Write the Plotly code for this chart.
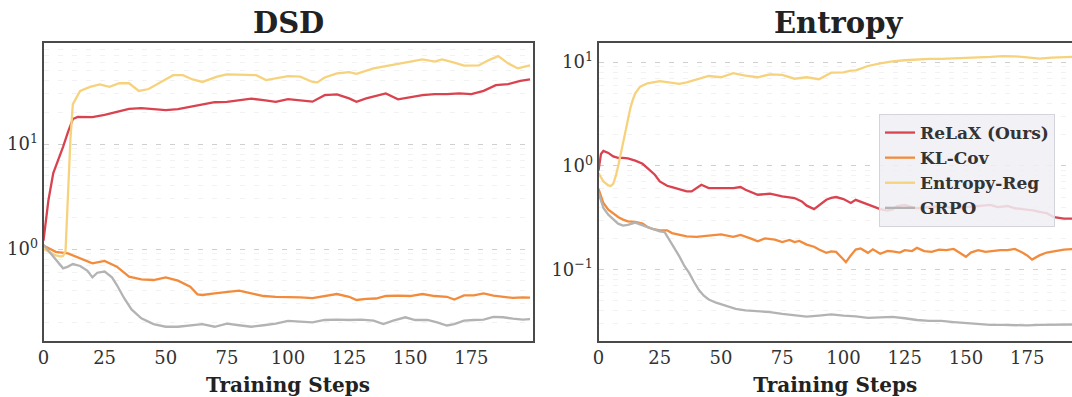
import plotly.graph_objects as go

# ---------------- data: DSD panel ----------------
dsd_relax_steps = [0, 2, 4, 6, 8, 10, 12, 14, 20, 25, 30, 35, 40, 45, 50, 55, 60, 65, 70, 75, 80, 85, 90, 95,
                   100, 105, 110, 115, 120, 125, 128, 132, 136, 140, 145, 150, 155, 160, 165, 170, 175, 180,
                   185, 190, 195, 199]
dsd_relax = [1.2, 2.9, 5.3, 7.0, 9.4, 13.0, 17.3, 18.1, 18.0, 18.9, 20.3, 21.6, 22.0, 21.6, 21.0, 21.5, 22.6,
             23.5, 25.0, 25.2, 26.2, 27.0, 26.2, 25.2, 26.8, 26.2, 25.3, 29.2, 29.7, 27.2, 25.2, 27.2, 28.7,
             30.3, 26.6, 27.8, 29.2, 29.9, 29.9, 30.4, 29.9, 32.1, 36.3, 37.2, 40.0, 41.2]

dsd_entreg_steps = [0, 3, 5, 7, 8, 9, 10, 11, 12, 15, 19, 23, 27, 31, 35, 39, 43, 49, 53, 57, 61, 65, 71, 75,
                    83, 87, 91, 97, 100, 105, 110, 112, 115, 120, 125, 128, 130, 135, 140, 145, 150, 155, 160,
                    163, 168, 172, 178, 182, 186, 190, 194, 199]
dsd_entreg = [1.0, 0.92, 0.87, 0.85, 0.86, 0.95, 3.5, 11.0, 24.0, 32.0, 35.0, 36.9, 35.0, 37.9, 37.9, 32.0,
              33.4, 40.0, 45.2, 45.2, 41.2, 39.0, 43.8, 46.1, 45.2, 45.2, 40.7, 43.0, 44.4, 43.8, 39.0, 38.6,
              43.0, 47.0, 48.3, 46.5, 48.3, 52.5, 55.3, 58.0, 61.0, 64.0, 61.0, 64.0, 59.5, 55.7, 56.0, 62.7,
              68.7, 58.6, 52.5, 56.0]

dsd_klcov_steps = [0, 5, 10, 15, 20, 25, 30, 35, 40, 45, 50, 55, 60, 63, 65, 70, 75, 80, 85, 90, 95, 100, 105,
                   110, 115, 120, 125, 128, 132, 136, 140, 145, 150, 155, 160, 165, 168, 172, 176, 180, 184,
                   188, 192, 196, 199]
dsd_klcov = [1.08, 0.94, 0.91, 0.815, 0.73, 0.77, 0.68, 0.545, 0.515, 0.507, 0.537, 0.50, 0.437, 0.37, 0.365,
             0.378, 0.387, 0.401, 0.378, 0.357, 0.351, 0.351, 0.346, 0.341, 0.357, 0.373, 0.351, 0.327, 0.335,
             0.338, 0.357, 0.36, 0.357, 0.373, 0.357, 0.351, 0.331, 0.362, 0.362, 0.378, 0.36, 0.351, 0.342,
             0.346, 0.345]

dsd_grpo_steps = [0, 3, 6, 8, 10, 12, 15, 18, 20, 22, 25, 28, 30, 33, 36, 40, 45, 50, 55, 60, 65, 70, 75, 80,
                  85, 90, 95, 100, 105, 110, 115, 120, 125, 130, 135, 139, 143, 148, 152, 157, 161, 165, 168,
                  172, 176, 180, 184, 188, 192, 196, 199]
dsd_grpo = [1.1, 0.91, 0.74, 0.655, 0.68, 0.72, 0.69, 0.62, 0.537, 0.595, 0.61, 0.537, 0.454, 0.34, 0.266,
            0.219, 0.193, 0.182, 0.182, 0.186, 0.193, 0.182, 0.195, 0.188, 0.182, 0.188, 0.195, 0.207, 0.203,
            0.2, 0.211, 0.213, 0.211, 0.213, 0.208, 0.193, 0.208, 0.224, 0.211, 0.211, 0.2, 0.187, 0.193,
            0.208, 0.211, 0.213, 0.226, 0.224, 0.217, 0.213, 0.215]

# ---------------- data: Entropy panel ----------------
ent_relax_steps = [0, 1, 2, 4, 6, 8, 10, 12, 15, 18, 20, 23, 25, 28, 30, 33, 36, 38, 40, 42, 45, 50, 55, 58,
                   60, 65, 70, 75, 80, 83, 85, 88, 90, 93, 95, 97, 100, 103, 105, 108, 112, 115, 118, 120,
                   122, 125, 128, 130, 135, 140, 145, 150, 155, 160, 163, 167, 170, 175, 178, 180, 183, 186,
                   190, 194, 199]
ent_relax = [0.9, 1.3, 1.39, 1.33, 1.23, 1.19, 1.19, 1.18, 1.12, 1.045, 0.95, 0.82, 0.707, 0.642, 0.624,
             0.597, 0.566, 0.566, 0.61, 0.657, 0.61, 0.61, 0.61, 0.624, 0.588, 0.526, 0.538, 0.507, 0.489,
             0.454, 0.413, 0.383, 0.413, 0.471, 0.49, 0.5, 0.478, 0.438, 0.47, 0.44, 0.406, 0.383, 0.37,
             0.38, 0.41, 0.42, 0.40, 0.39, 0.40, 0.41, 0.39, 0.40, 0.41, 0.42, 0.40, 0.41, 0.39, 0.38, 0.37,
             0.36, 0.35, 0.32, 0.31, 0.31, 0.30]

ent_entreg_steps = [0, 2, 4, 5, 6, 7, 8, 9, 10, 11, 12, 13, 14, 15, 17, 20, 25, 30, 33, 36, 40, 45, 50, 55,
                    60, 65, 70, 75, 80, 85, 90, 95, 100, 103, 105, 110, 115, 120, 125, 130, 135, 140, 145,
                    150, 155, 160, 165, 170, 175, 180, 185, 190, 194, 199]
ent_entreg = [0.85, 0.707, 0.647, 0.64, 0.67, 0.79, 0.985, 1.28, 1.65, 2.14, 2.77, 3.59, 4.31, 5.0, 5.79,
              6.24, 6.53, 6.32, 6.15, 6.35, 6.82, 7.33, 7.13, 7.8, 7.38, 7.13, 7.6, 7.5, 6.9, 7.13, 6.82,
              7.9, 7.95, 8.25, 8.3, 9.15, 9.7, 10.15, 10.4, 10.6, 10.7, 10.7, 10.8, 10.85, 11.1, 11.2, 11.4,
              11.35, 11.1, 10.8, 11.0, 11.2, 11.2, 11.2]

ent_klcov_steps = [0, 1, 2, 4, 6, 8, 10, 12, 15, 18, 20, 22, 25, 28, 30, 33, 36, 40, 45, 50, 55, 58, 62, 65,
                   68, 72, 75, 78, 80, 82, 85, 88, 90, 93, 95, 97, 100, 101, 103, 105, 107, 110, 112, 115,
                   118, 120, 123, 125, 128, 130, 133, 136, 139, 142, 145, 148, 150, 152, 155, 158, 161, 164,
                   167, 170, 173, 175, 177, 180, 183, 186, 190, 194, 199]
ent_klcov = [0.6, 0.52, 0.438, 0.378, 0.345, 0.321, 0.303, 0.292, 0.288, 0.277, 0.257, 0.247, 0.239, 0.239,
             0.225, 0.217, 0.209, 0.207, 0.212, 0.218, 0.207, 0.216, 0.2, 0.187, 0.2, 0.194, 0.184, 0.193,
             0.184, 0.189, 0.174, 0.166, 0.156, 0.145, 0.15, 0.148, 0.125, 0.118, 0.137, 0.156, 0.16, 0.145,
             0.157, 0.142, 0.151, 0.15, 0.146, 0.154, 0.151, 0.162, 0.151, 0.148, 0.156, 0.154, 0.158,
             0.144, 0.133, 0.146, 0.154, 0.148, 0.151, 0.154, 0.154, 0.158, 0.146, 0.137, 0.125, 0.137,
             0.146, 0.151, 0.156, 0.158, 0.158]

ent_grpo_steps = [0, 2, 4, 6, 8, 10, 12, 15, 18, 20, 23, 25, 27, 29, 31, 33, 35, 37, 39, 41, 43, 45, 48, 50,
                  53, 56, 60, 65, 70, 75, 80, 85, 90, 95, 100, 105, 110, 115, 120, 125, 130, 135, 140, 145,
                  150, 155, 160, 165, 170, 175, 180, 185, 190, 194, 199]
ent_grpo = [0.55, 0.392, 0.338, 0.303, 0.277, 0.265, 0.27, 0.284, 0.27, 0.257, 0.243, 0.233, 0.23, 0.194,
            0.162, 0.134, 0.109, 0.093, 0.076, 0.0635, 0.056, 0.0516, 0.048, 0.0462, 0.0444, 0.0418,
            0.0405, 0.0396, 0.039, 0.0375, 0.0362, 0.0352, 0.036, 0.037, 0.036, 0.0355, 0.0343, 0.0347,
            0.035, 0.034, 0.0327, 0.032, 0.032, 0.0312, 0.0305, 0.0297, 0.0293, 0.0293, 0.0291, 0.029,
            0.0293, 0.0294, 0.0297, 0.0297, 0.0297]

series_names = ["ReLaX (Ours)", "KL-Cov", "Entropy-Reg", "GRPO"]
series_colors = ["#d9434f", "#f28c3c", "#f7d27c", "#b3b3b3"]
x_tick_vals = [0, 25, 50, 75, 100, 125, 150, 175]
panel_titles = ["DSD", "Entropy"]
x_title = "Training Steps"

# ---------------- figure ----------------
W, H = 1072, 397
fig = go.Figure()

panels = [
    ("x", "y", [(dsd_relax_steps, dsd_relax), (dsd_klcov_steps, dsd_klcov),
                (dsd_entreg_steps, dsd_entreg), (dsd_grpo_steps, dsd_grpo)], False),
    ("x2", "y2", [(ent_relax_steps, ent_relax), (ent_klcov_steps, ent_klcov),
                  (ent_entreg_steps, ent_entreg), (ent_grpo_steps, ent_grpo)], True),
]
for xa, ya, data, show in panels:
    for (steps, vals), name, col in zip(data, series_names, series_colors):
        fig.add_trace(go.Scatter(x=steps, y=vals, mode="lines", name=name,
                                 line=dict(color=col, width=2.3), xaxis=xa, yaxis=ya,
                                 showlegend=show, legendgroup=name))

frame = "#4a4a4a"
tickfont = dict(family="DejaVu Serif", size=18, color="#333333")

def xaxis(domain, rng, anchor):
    return dict(domain=domain, range=rng, anchor=anchor, tickvals=x_tick_vals, ticks="", showgrid=False,
                zeroline=False, showline=True, linecolor=frame, linewidth=2, mirror=True,
                tickfont=tickfont, automargin=False,
                title=dict(text="<b>%s</b>" % x_title, standoff=12,
                           font=dict(family="DejaVu Serif", size=20, color="#222222")))

def yaxis(domain, rng, anchor, majors, labels, minors, mirror):
    return dict(domain=domain, type="log", range=rng, anchor=anchor, tickmode="array", tickvals=majors,
                ticktext=labels, ticks="", showgrid=True, gridcolor="#cfcfcf", griddash="5px,9px",
                gridwidth=1,
                minor=dict(tickmode="array", tickvals=minors, showgrid=True, gridcolor="#f2f2f2",
                           gridwidth=1, ticks=""),
                zeroline=False, showline=True, linecolor=frame, linewidth=2, mirror=mirror,
                tickfont=tickfont, automargin=False)

ydom = [1 - 340.5 / H, 1 - 43 / H]
minors_left = [m * d for d in (0.1, 1, 10) for m in range(2, 10)]
minors_right = [m * d for d in (0.01, 0.1, 1) for m in range(2, 10)]

fig.update_layout(
    width=W, height=H, template="none",
    margin=dict(l=0, r=0, t=0, b=0),
    paper_bgcolor="white", plot_bgcolor="white",
    font=dict(family="DejaVu Serif", color="#333333"),
    xaxis=xaxis([43.5 / W, 532.5 / W], [0, 200], "y"),
    yaxis=yaxis(ydom, [-0.871, 1.962], "x", [1, 10], ["10<sup>0</sup>", "10<sup>1</sup>"], minors_left, True),
    xaxis2=xaxis([598.5 / W, 1.0], [0, 193.3], "y2"),
    yaxis2=yaxis(ydom, [-1.683, 1.183], "x2", [0.1, 1, 10],
                 ["10<sup>\u22121</sup>", "10<sup>0</sup>", "10<sup>1</sup>"], minors_right, False),
    legend=dict(x=879 / W, y=1 - 114 / H, xanchor="left", yanchor="top",
                bgcolor="rgba(240,239,244,0.85)", bordercolor="#d4d4dc", borderwidth=1,
                font=dict(family="DejaVu Serif", size=17, color="#333333", weight="bold"),
                tracegroupgap=0, itemwidth=30),
    annotations=[
        dict(text="<b>%s</b>" % panel_titles[0], x=288 / W, y=1 - 23 / H, xref="paper", yref="paper",
             showarrow=False, xanchor="center", yanchor="middle",
             font=dict(family="DejaVu Serif", size=29, color="#222222")),
        dict(text="<b>%s</b>" % panel_titles[1], x=838 / W, y=1 - 23 / H, xref="paper", yref="paper",
             showarrow=False, xanchor="center", yanchor="middle",
             font=dict(family="DejaVu Serif", size=29, color="#222222")),
    ],
)

fig.write_html("out.html")
